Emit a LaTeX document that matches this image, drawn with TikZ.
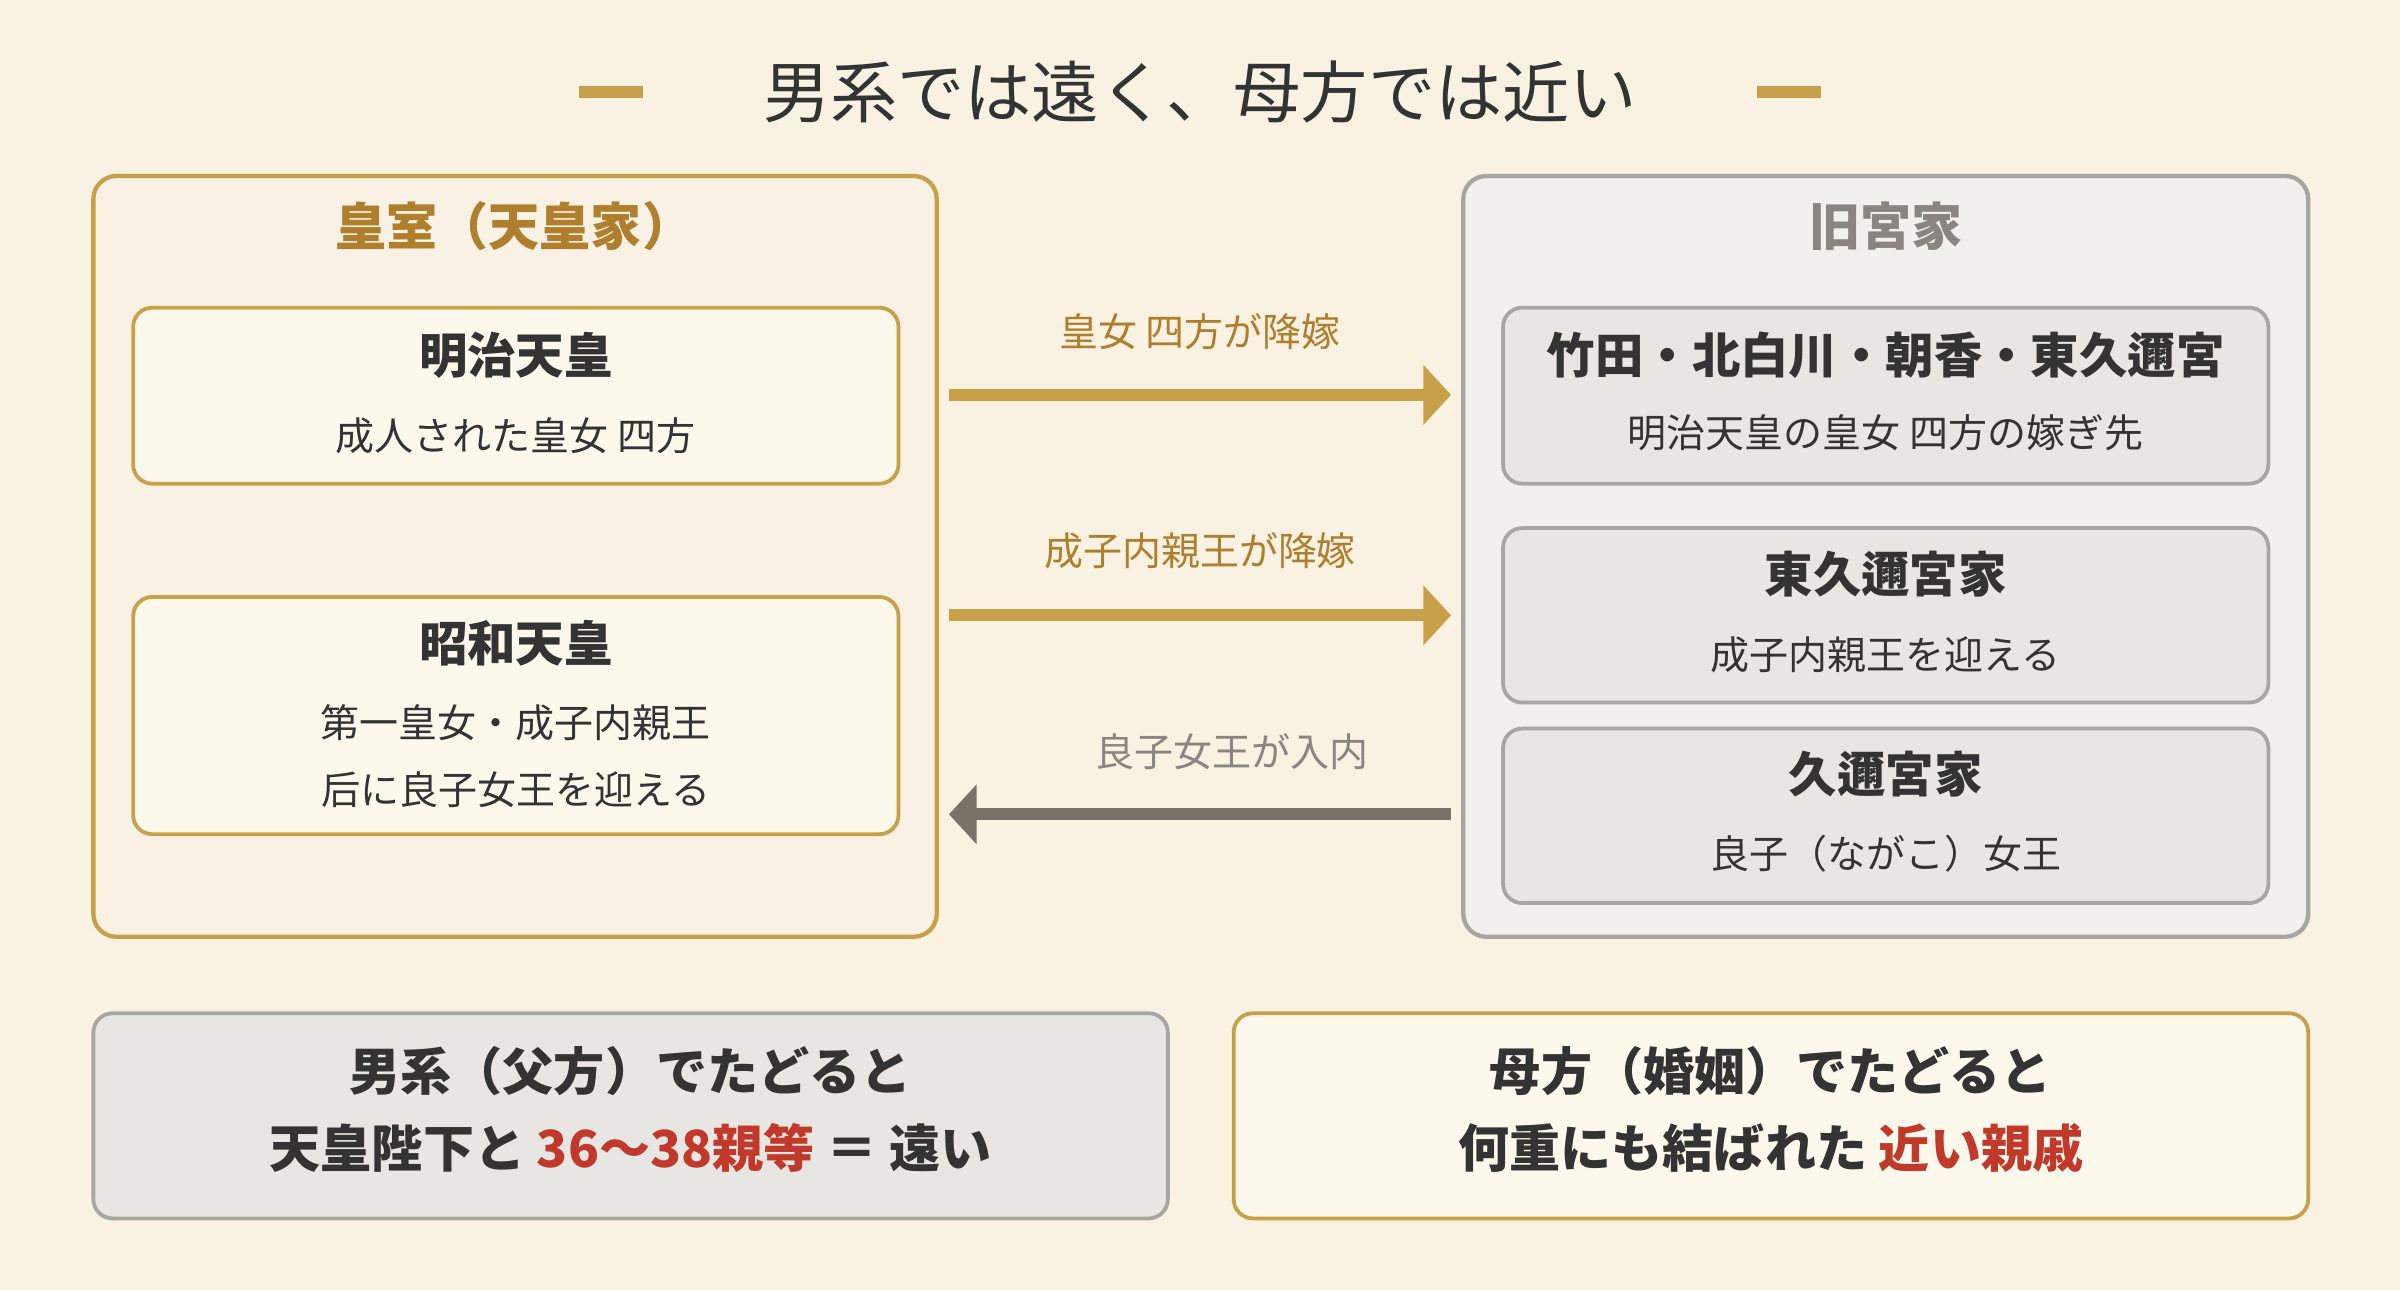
\documentclass[tikz,border=0pt]{standalone}
\usepackage{fontspec}
\setmainfont{Noto Sans CJK JP}
\newfontfamily\jpbold{Noto Sans CJK JP Bold}
\usetikzlibrary{arrows.meta,positioning}
\definecolor{bgcol}{HTML}{F9F2E2}
\definecolor{gold}{HTML}{C9A04A}
\definecolor{goldtxt}{HTML}{B07F2E}
\definecolor{lpanel}{HTML}{F8F1E4}
\definecolor{lbox}{HTML}{FDF8EC}
\definecolor{rpanel}{HTML}{F2F0EC}
\definecolor{rbox}{HTML}{E8E6E2}
\definecolor{grayline}{HTML}{A8A6A2}
\definecolor{grayarr}{HTML}{7A7268}
\definecolor{graytxt}{HTML}{8A8580}
\definecolor{redtxt}{HTML}{C0392B}
\definecolor{ink}{HTML}{333333}
\tikzset{
  panel/.style={rounded corners=0.3cm, line width=1.6pt},
  card/.style={rounded corners=0.25cm, line width=1.4pt},
  head/.style={font=\fontsize{18}{20}\selectfont\bfseries, text=ink},
  sub/.style={font=\fontsize{14.5}{16}\selectfont, text=ink},
  lab/.style={font=\fontsize{14.5}{16}\selectfont},
  flow/.style={line width=4.5pt, -{Triangle[length=0.36cm,width=0.76cm]}},
}
\begin{document}
\begin{tikzpicture}[x=0.02cm,y=-0.02cm]
\fill[bgcol] (0,0) rectangle (1568,843);
\useasboundingbox (0,0) rectangle (1568,843);

% title
\node (title) at (784,60) {\fontsize{25}{28}\selectfont\color{ink}男系では遠く、母方では近い};
\fill[gold] (378,56) rectangle (420,64);
\fill[gold] (1148,56) rectangle (1190,64);

% left panel
\draw[panel, draw=gold, fill=lpanel] (61,115) rectangle (612,612);
\node (lt) at (336,148) {\fontsize{19}{21}\selectfont\bfseries\color{goldtxt}皇室（天皇家）};
\draw[card, draw=gold, fill=lbox] (87,201) rectangle (587,316);
\node[head] (meiji) at (337,232) {明治天皇};
\node[sub] (meijis) at (337,285) {成人された皇女 四方};
\draw[card, draw=gold, fill=lbox] (87,390) rectangle (587,545);
\node[head] (showa) at (337,420) {昭和天皇};
\node[sub] (showa1) at (337,472) {第一皇女・成子内親王};
\node[sub] (showa2) at (337,516) {后に良子女王を迎える};

% right panel
\draw[panel, draw=grayline, fill=rpanel] (956,115) rectangle (1508,612);
\node (rt) at (1232,148) {\fontsize{19}{21}\selectfont\bfseries\color{graytxt}旧宮家};
\draw[card, draw=grayline, fill=rbox] (982,201) rectangle (1482,316);
\node[head] (r1) at (1232,232) {竹田・北白川・朝香・東久邇宮};
\node[sub] (r1s) at (1232,283) {明治天皇の皇女 四方の嫁ぎ先};
\draw[card, draw=grayline, fill=rbox] (982,345) rectangle (1482,459);
\node[head] (r2) at (1232,375) {東久邇宮家};
\node[sub] (r2s) at (1232,428) {成子内親王を迎える};
\draw[card, draw=grayline, fill=rbox] (982,476) rectangle (1482,590);
\node[head] (r3) at (1232,506) {久邇宮家};
\node[sub] (r3s) at (1232,558) {良子（ながこ）女王};

% arrows
\coordinate (a1s) at (620,258); \coordinate (a1e) at (948,258);
\coordinate (a2s) at (620,402); \coordinate (a2e) at (948,402);
\coordinate (a3s) at (948,532); \coordinate (a3e) at (620,532);
\draw[flow, gold] (a1s) -- (a1e);
\draw[flow, gold] (a2s) -- (a2e);
\draw[flow, grayarr] (a3s) -- (a3e);
\node[lab, text=goldtxt] (l1) at (784,217) {皇女 四方が降嫁};
\node[lab, text=goldtxt] (l2) at (784,360) {成子内親王が降嫁};
\node[lab, text=graytxt] (l3) at (805,491) {良子女王が入内};

% bottom
\draw[card, draw=grayline, fill=rbox] (61,662) rectangle (763,796);
\node[head, font=\fontsize{19}{21}\selectfont\bfseries] (b1) at (412,700) {男系（父方）でたどると};
\node[head, font=\fontsize{19}{21}\selectfont\bfseries] (b2) at (412,750) {天皇陛下と {\color{redtxt}36〜38親等} ＝ 遠い};
\draw[card, draw=gold, fill=lbox] (806,662) rectangle (1508,796);
\node[head, font=\fontsize{19}{21}\selectfont\bfseries] (b3) at (1157,700) {母方（婚姻）でたどると};
\node[head, font=\fontsize{19}{21}\selectfont\bfseries] (b4) at (1157,750) {何重にも結ばれた {\color{redtxt}近い親戚}};
\end{tikzpicture}
\end{document}
